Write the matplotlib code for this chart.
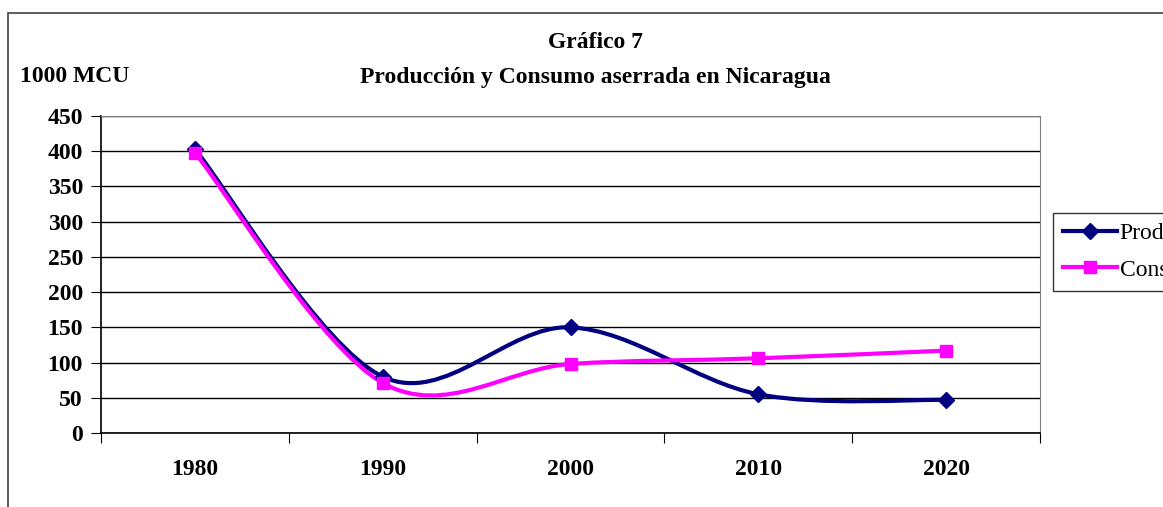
import matplotlib
matplotlib.use("Agg")
import matplotlib.pyplot as plt
from matplotlib.path import Path
from matplotlib.patches import PathPatch, Rectangle
from matplotlib.lines import Line2D

# Chart data (1000 MCU)
years = ["1980", "1990", "2000", "2010", "2020"]
produccion = [403, 80, 150, 55, 47]
consumo = [398, 71, 98, 106, 117]

NAVY = "#000080"
MAGENTA = "#FF00FF"
FONT = "Liberation Serif"
FS = 17


def smooth_path(xs, ys):
    # Excel-like smoothed line: Catmull-Rom turned into cubic Bezier segments
    pts = list(zip(xs, ys))
    verts = [pts[0]]
    codes = [Path.MOVETO]
    n = len(pts)
    for i in range(n - 1):
        p0 = pts[i - 1] if i > 0 else pts[i]
        p1 = pts[i]
        p2 = pts[i + 1]
        p3 = pts[i + 2] if i + 2 < n else pts[i + 1]
        c1 = (p1[0] + (p2[0] - p0[0]) / 6, p1[1] + (p2[1] - p0[1]) / 6)
        c2 = (p2[0] - (p3[0] - p1[0]) / 6, p2[1] - (p3[1] - p1[1]) / 6)
        verts += [c1, c2, p2]
        codes += [Path.CURVE4] * 3
    return Path(verts, codes)


fig = plt.figure(figsize=(11.63, 5.07), dpi=100)
W, H = 1163, 507

# outer chart border (cut off at the right and bottom like the reference)
fig.patches.append(Rectangle((8 / W, -0.05), 1.1, 1 - 13 / H + 0.05,
                             transform=fig.transFigure, fill=False,
                             edgecolor="#404040", linewidth=1.2))

ax = fig.add_axes([101 / W, 1 - 433 / H, (1040 - 101) / W, (433 - 116) / H])

x = list(range(1, len(years) + 1))
ax.add_patch(PathPatch(smooth_path(x, produccion), fill=False,
                       edgecolor=NAVY, linewidth=3, zorder=3))
ax.add_patch(PathPatch(smooth_path(x, consumo), fill=False,
                       edgecolor=MAGENTA, linewidth=3, zorder=3))
ax.plot(x, produccion, linestyle="none", marker="D", markersize=8,
        color=NAVY, zorder=4)
ax.plot(x, consumo, linestyle="none", marker="s", markersize=9,
        color=MAGENTA, zorder=4)

ax.set_xlim(0.5, len(years) + 0.5)
ax.set_ylim(0, 450)
ax.set_yticks(range(0, 451, 50))
ax.yaxis.grid(True, color="black", linewidth=1)
ax.set_axisbelow(True)

ax.set_xticks([i + 0.5 for i in range(len(years) + 1)])
ax.set_xticklabels([])
ax.set_xticks(x, minor=True)
ax.set_xticklabels(years, minor=True)
ax.tick_params(axis="x", which="major", direction="out", length=7, color="black")
ax.tick_params(axis="x", which="minor", length=0, pad=19)
ax.tick_params(axis="y", direction="out", length=7, pad=6)

for lab in ax.get_xticklabels(minor=True) + ax.get_yticklabels():
    lab.set_fontfamily(FONT)
    lab.set_fontweight("bold")
    lab.set_fontsize(FS)

for side in ["top", "right"]:
    ax.spines[side].set_color("#808080")
ax.spines["left"].set_color("black")
ax.spines["bottom"].set_color("black")
ax.spines["left"].set_linewidth(1.2)
ax.spines["bottom"].set_linewidth(1.2)

fig.text(595 / W, 1 - 43 / H, "Gráfico 7", ha="center", va="center",
         fontfamily=FONT, fontweight="bold", fontsize=FS)
fig.text(595 / W, 1 - 77 / H, "Producción y Consumo aserrada en Nicaragua",
         ha="center", va="center", fontfamily=FONT, fontweight="bold",
         fontsize=FS)
fig.text(20 / W, 1 - 77 / H, "1000 MCU", ha="left", va="center",
         fontfamily=FONT, fontweight="bold", fontsize=FS)

# legend sits partly outside the figure, cut off at the right edge as in the reference
handles = [
    Line2D([], [], color=NAVY, linewidth=3, marker="D", markersize=8),
    Line2D([], [], color=MAGENTA, linewidth=3, marker="s", markersize=9),
]
leg = fig.legend(handles, ["Producción", "Consumo"], loc="upper left",
                 bbox_to_anchor=(1053 / W, 1 - 213 / H),
                 prop={"family": FONT, "size": FS}, frameon=True,
                 fancybox=False, edgecolor="black", handlelength=2.3,
                 handletextpad=0.1, borderpad=0.42, labelspacing=0.62,
                 borderaxespad=0)
leg.get_frame().set_linewidth(1)

fig.savefig("out.png", dpi=100)
